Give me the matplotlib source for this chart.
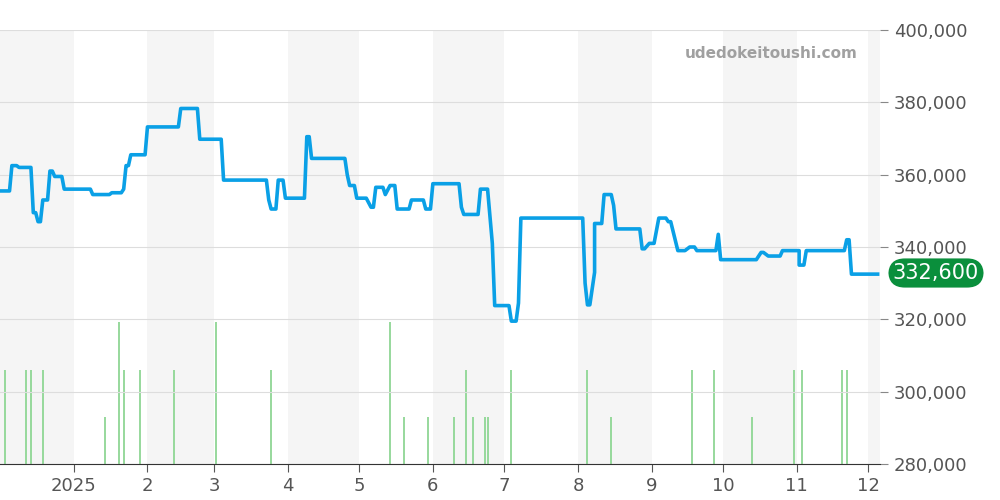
import datetime as dt
import matplotlib.pyplot as plt
import matplotlib.dates as mdates
from matplotlib.ticker import FuncFormatter

# price line: (day offset from 2024-12-01, price in thousand yen)
price_pts = [(0, 355.5), (4.2, 355.5), (5.1, 362.5), (7.6, 362.5), (8.4, 362), (13.9, 362), (14.7, 349.5),
             (15.6, 349.5), (16.4, 347), (17.3, 347), (18.1, 353), (20.6, 353), (21.5, 361), (22.7, 361),
             (23.6, 359.5), (26.5, 359.5), (27.4, 356), (38.3, 356), (39.6, 354.5), (46.3, 354.5), (47.6, 355),
             (51.8, 355), (52.6, 356), (53.5, 362.5), (54.7, 362.5), (55.6, 365.5), (61.9, 365.5), (62.7, 373.2),
             (75.8, 373.2), (76.6, 378.3), (83.8, 378.3), (84.6, 369.8), (93.5, 369.8), (94.3, 358.5),
             (112.8, 358.5), (113.7, 353), (114.5, 350.5), (116.6, 350.5), (117.5, 358.5), (119.6, 358.5),
             (120.4, 353.5), (128.8, 353.5), (129.7, 370.5), (130.5, 370.5), (131.4, 364.5), (145.7, 364.5),
             (146.5, 360), (147.4, 357), (149.5, 357), (150.3, 353.5), (154.5, 353.5), (156.2, 351),
             (157.5, 351), (158.3, 356.5), (161.3, 356.5), (162.5, 354.5), (164.2, 357), (166.3, 357),
             (167.2, 350.5), (172.6, 350.5), (173.5, 353), (178.5, 353), (179.4, 350.5), (181.5, 350.5),
             (182.3, 357.5), (193.7, 357.5), (194.5, 351), (195.4, 349), (201.3, 349), (202.1, 356),
             (205.5, 356), (207.2, 341), (208.4, 323.8), (214.7, 323.8), (215.6, 319.5), (217.7, 319.5),
             (218.5, 324.5), (219.4, 348), (245.5, 348), (246.3, 330), (247.6, 324), (248.8, 324), (250.1, 333),
             (250.9, 346.5), (253.5, 346.5), (254.3, 354.5), (257.7, 354.5), (258.5, 351.5), (259.4, 345),
             (269.5, 345), (270.3, 339.5), (271.2, 339.5), (273.3, 341), (275.8, 341), (277.5, 348),
             (280.8, 348), (281.7, 347), (282.5, 347), (285.9, 339), (288.8, 339), (290.5, 340), (292.6, 340),
             (293.9, 339), (301.9, 339), (302.7, 343.5), (303.6, 336.5), (318.7, 336.5), (320, 338.5),
             (321.7, 338.5), (323.4, 337.5), (328.8, 337.5), (329.7, 339), (336, 339), (336.8, 335),
             (338.9, 335), (339.8, 339), (355.8, 339), (356.6, 342), (357.9, 342), (358.7, 332.5), (369.7, 332.5)]

# volume spikes: (day offset, count)
vol_pts = [(2, 2), (11.5, 2), (13, 2), (18, 2), (44, 1), (50.5, 3), (52, 2), (59.5, 2), (73, 2), (91.5, 3),
           (114.5, 2), (164.5, 3), (170.5, 1), (180, 1), (191.5, 1), (196.5, 2), (199.5, 1), (204.5, 1),
           (205.5, 1), (215.5, 2), (247.5, 2), (257, 1), (291, 2), (300, 2), (316.5, 1), (334, 2), (337, 2),
           (354, 2), (356, 2)]
last_price = 332600

start = dt.date(2024, 12, 1)
end = start + dt.timedelta(days=370.5)
px = [start + dt.timedelta(days=d) for d, _ in price_pts]
py = [p * 1000 for _, p in price_pts]
vx = [start + dt.timedelta(days=d) for d, _ in vol_pts]
vy = [v for _, v in vol_pts]
months = [dt.date(2024, 12, 1)] + [dt.date(2025, m, 1) for m in range(1, 13)] + [dt.date(2026, 1, 1)]

fig = plt.figure(figsize=(10, 5), dpi=100)
ax = fig.add_axes([0, 0.072, 0.88, 0.868])

# volume axis underneath, with the month bands
ax2 = ax.twinx()
for i in range(0, len(months) - 1, 2):
    ax2.axvspan(months[i], months[i + 1], color="#f5f5f5", zorder=0, lw=0)
ax2.vlines(vx, 0, vy, color="#8fd694", lw=1.3, zorder=2)
ax2.set_ylim(0, 9.2)
ax2.set_xlim(start, end)
ax2.axis("off")

ax.set_zorder(ax2.get_zorder() + 1)
ax.patch.set_visible(False)
ax.plot(px, py, color="#0aa0e6", lw=2.6, zorder=3)

ax.set_xlim(start, end)
ax.set_ylim(280000, 400000)
ax.set_yticks(range(280000, 400001, 20000))
ax.yaxis.set_major_formatter(FuncFormatter(lambda v, p: f"{int(v):,}"))
ax.yaxis.tick_right()
ax.grid(axis="y", color="#dddddd", lw=0.8)
ax.set_xticks(months[1:13])
ax.xaxis.set_major_formatter(FuncFormatter(
    lambda v, p: "2025" if mdates.num2date(v).month == 1 else str(mdates.num2date(v).month)))
ax.tick_params(colors="#555555", labelsize=13, length=6)
ax.tick_params(axis="y", colors="#888888", labelcolor="#555555", pad=4)
for s in ax.spines.values():
    s.set_visible(False)
ax.spines["bottom"].set_visible(True)
ax.spines["bottom"].set_color("#333333")

ax.text(0.975, 0.945, "udedokeitoushi.com", transform=ax.transAxes, ha="right", va="center",
        fontsize=11, fontweight="bold", color="#a0a0a0")
fig.text(0.936, 0.454, f"{last_price:,}", ha="center", va="center", fontsize=15, color="white",
         bbox=dict(boxstyle="round,pad=0.22,rounding_size=0.8", fc="#0a8f3c", ec="none"))

fig.savefig("out.png")
